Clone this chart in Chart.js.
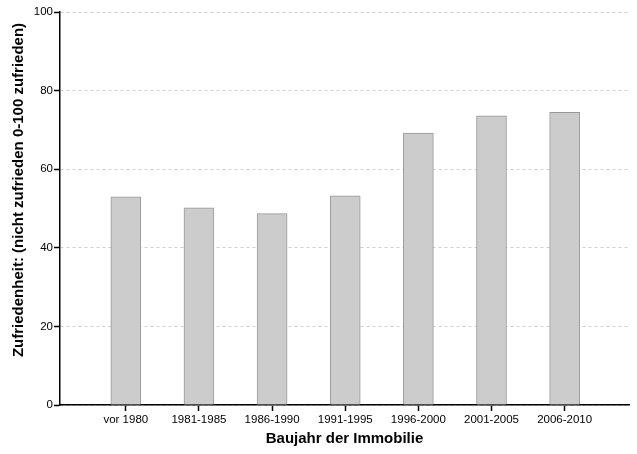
<!DOCTYPE html>
<html><head><meta charset="utf-8">
<script src="https://cdn.jsdelivr.net/npm/chart.js@4/dist/chart.umd.min.js"></script>
<style>html,body{margin:0;padding:0;background:#fff}#wrap{width:637px;height:454px}</style>
</head><body><div id="wrap"><canvas id="c" width="637" height="454"></canvas></div>
<script>
const categories = ["vor 1980","1981-1985","1986-1990","1991-1995","1996-2000","2001-2005","2006-2010"];
const satisfaction = [53.0, 50.2, 48.7, 53.2, 69.2, 73.6, 74.5];
const yTicks = [0, 20, 40, 60, 80, 100];
const yTitle = 'Zufriedenheit: (nicht zufrieden 0-100 zufrieden)';

const font = "'Liberation Sans', Arial, sans-serif";

const yTitlePlugin = {
  id: 'yTitle',
  afterDraw(chart) {
    const ctx = chart.ctx;
    ctx.save();
    ctx.translate(19, 190);
    ctx.rotate(-Math.PI / 2);
    ctx.font = 'bold 15px ' + font;
    ctx.fillStyle = '#000';
    ctx.textAlign = 'center';
    ctx.textBaseline = 'middle';
    ctx.fillText(yTitle, 0, 0);
    ctx.restore();
  }
};

new Chart(document.getElementById('c'), {
  type: 'bar',
  plugins: [yTitlePlugin],
  data: {
    datasets: [{
      data: categories.map((c, i) => ({x: i, y: satisfaction[i]})),
      backgroundColor: '#cccccc',
      borderColor: '#999999',
      borderWidth: 1,
      barThickness: 30
    }]
  },
  options: {
    responsive: false,
    animation: false,
    layout: {padding: {left: 4, right: 8, top: 12, bottom: 6}},
    plugins: {legend: {display: false}, tooltip: {enabled: false}},
    scales: {
      x: {
        type: 'linear', min: -0.9, max: 6.88, offset: false,
        afterBuildTicks: s => { s.ticks = categories.map((c, i) => ({value: i})); },
        afterFit: s => { s.height = 43; },
        ticks: {callback: (v) => categories[v] ?? '', color: '#000', font: {family: font, size: 11.5}, padding: 2, maxRotation: 0, autoSkip: false},
        grid: {offset: false, drawOnChartArea: false, tickLength: 6, tickColor: '#000', tickWidth: 1.5},
        border: {color: '#000', width: 1.5},
        title: {display: true, text: 'Baujahr der Immobilie', color: '#000', font: {family: font, size: 15, weight: 'bold'}, padding: {top: 4, bottom: 0}}
      },
      y: {
        min: 0, max: 100,
        afterBuildTicks: s => { s.ticks = yTicks.map(v => ({value: v})); },
        afterFit: s => { s.width = 56; },
        ticks: {color: '#000', font: {family: font, size: 11.5}, padding: 1},
        grid: {color: '#cfcfcf', lineWidth: 1, tickLength: 6, tickColor: '#000', tickWidth: 1.5, tickBorderDash: [0, 0]},
        border: {color: '#000', width: 1.5, dash: [3, 3]}
      }
    }
  }
});
</script></body></html>
